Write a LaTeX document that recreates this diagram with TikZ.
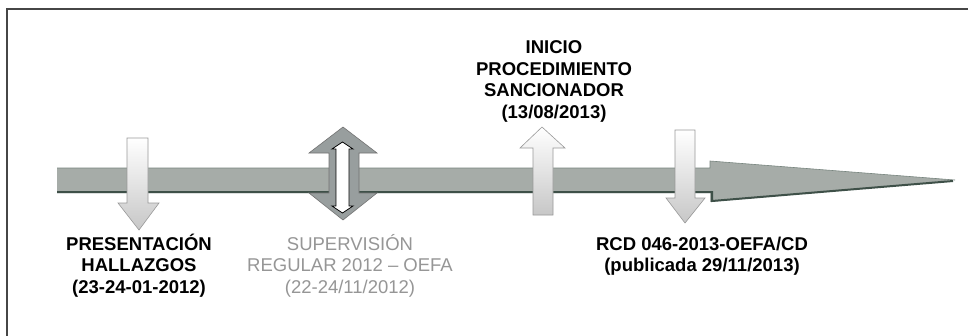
\documentclass[tikz,border=0pt]{standalone}
\usepackage{fontspec}
\setmainfont{Liberation Sans}
\definecolor{shaftgray}{RGB}{166,172,168}
\definecolor{shaftdark}{RGB}{62,80,72}
\definecolor{dblgray}{RGB}{152,158,158}
\definecolor{framegray}{RGB}{70,70,70}
\definecolor{lbltxtgray}{RGB}{150,150,150}
\begin{document}
\begin{tikzpicture}[x=1pt,y=-1pt,
  lightarrow/.style={draw=black!40, line width=0.6pt, top color=white, bottom color=black!22},
  lbl/.style={inner sep=0pt, align=center, anchor=base, font=\fontsize{18.5}{21.6}\selectfont\bfseries},
  lblgray/.style={inner sep=0pt, align=center, anchor=base, text=lbltxtgray, font=\fontsize{18.5}{21.6}\selectfont}]
\useasboundingbox (0,0) rectangle (968,335);
\clip (0,0) rectangle (968,335);
\fill[white] (0,0) rectangle (968,335);
% frame
\draw[framegray, line width=1.4pt] (7,9) rectangle (990,360);
% main arrow
\fill[shaftgray] (57,168) -- (710,168) -- (710,161) -- (955,180) -- (710,202) -- (710,193) -- (57,193) -- cycle;
\draw[shaftdark!70, line width=0.6pt] (57,168) -- (710,168) -- (710,161) -- (955,180);
\draw[shaftdark, line width=2pt] (57,192) -- (712,192) -- (712,201) -- (953,181);
% arrow 1 (down)
\draw[lightarrow] (127,138) -- (148,138) -- (148,203) -- (159,203) -- (139,230) -- (118,203) -- (127,203) -- cycle;
% double arrow
\filldraw[fill=dblgray, draw=black!55, line width=0.6pt] (343,127) -- (377,153) -- (359,153) -- (359,193) -- (377,193) -- (343,220) -- (309,193) -- (329,193) -- (329,153) -- (309,153) -- cycle;
\filldraw[fill=white, draw=black, line width=0.8pt] (342.5,142) -- (353,149) -- (349,149) -- (349,206) -- (353,206) -- (342.5,213) -- (332,206) -- (336,206) -- (336,149) -- (332,149) -- cycle;
% up arrow
\draw[lightarrow] (542,127) -- (565,148) -- (553,148) -- (553,215) -- (533,215) -- (533,148) -- (520,148) -- cycle;
% arrow 4 (down)
\draw[lightarrow] (675,130) -- (695,130) -- (695,198) -- (705,198) -- (685,223) -- (666,198) -- (675,198) -- cycle;
% labels (base anchor = baseline of last line)
\node[lbl] (pres) at (139,293.2) {PRESENTACIÓN\\HALLAZGOS\\(23-24-01-2012)};
\node[lblgray] (sup) at (350,293.2) {SUPERVISIÓN\\REGULAR 2012 – OEFA\\(22-24/11/2012)};
\node[lbl] (ini) at (554,118.3) {INICIO\\PROCEDIMIENTO\\SANCIONADOR\\(13/08/2013)};
\node[lbl] (rcd) at (702,271.6) {RCD 046-2013-OEFA/CD\\(publicada 29/11/2013)};
\end{tikzpicture}
\end{document}
